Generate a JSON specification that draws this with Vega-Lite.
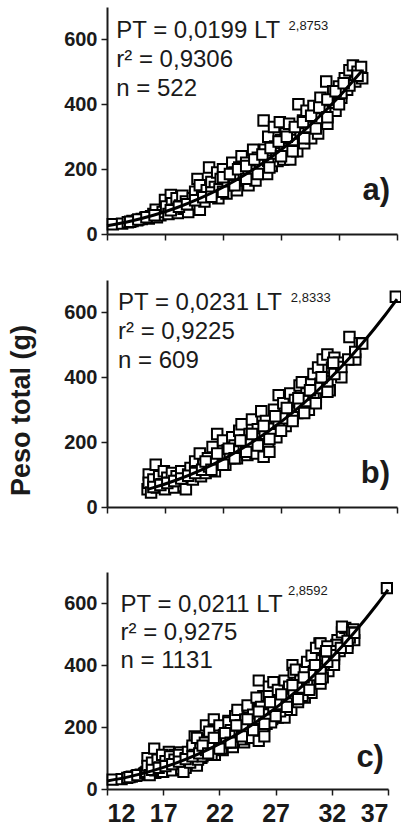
{
  "$schema": "https://vega.github.io/schema/vega-lite/v6.json",
  "background": "white",
  "padding": {"left": 7, "top": 7, "right": 0, "bottom": 0},
  "datasets": {
    "pts": [
      {"g":"a","lt":12.5,"pt":30},{"g":"a","lt":13.3,"pt":32},{"g":"a","lt":13.8,"pt":36},{"g":"a","lt":14.2,"pt":40},{"g":"a","lt":14.6,"pt":42},
      {"g":"a","lt":15.0,"pt":46},{"g":"a","lt":15.3,"pt":50},{"g":"a","lt":15.6,"pt":48},{"g":"a","lt":15.8,"pt":55},{"g":"a","lt":16.0,"pt":62},
      {"g":"a","lt":16.2,"pt":75},{"g":"a","lt":16.3,"pt":52},{"g":"a","lt":16.6,"pt":58},{"g":"a","lt":16.8,"pt":68},{"g":"a","lt":17.0,"pt":105},
      {"g":"a","lt":17.1,"pt":85},{"g":"a","lt":17.3,"pt":62},{"g":"a","lt":17.5,"pt":120},{"g":"a","lt":17.6,"pt":95},{"g":"a","lt":17.8,"pt":75},
      {"g":"a","lt":18.0,"pt":110},{"g":"a","lt":18.1,"pt":65},{"g":"a","lt":18.3,"pt":88},{"g":"a","lt":18.5,"pt":118},{"g":"a","lt":18.6,"pt":78},
      {"g":"a","lt":18.8,"pt":100},{"g":"a","lt":19.0,"pt":68},{"g":"a","lt":19.2,"pt":92},{"g":"a","lt":19.4,"pt":110},{"g":"a","lt":19.6,"pt":130},
      {"g":"a","lt":19.8,"pt":170},{"g":"a","lt":20.0,"pt":150},{"g":"a","lt":20.0,"pt":75},{"g":"a","lt":20.2,"pt":118},{"g":"a","lt":20.4,"pt":100},
      {"g":"a","lt":20.6,"pt":135},{"g":"a","lt":20.8,"pt":205},{"g":"a","lt":21.0,"pt":160},{"g":"a","lt":21.1,"pt":120},{"g":"a","lt":21.3,"pt":145},
      {"g":"a","lt":21.5,"pt":190},{"g":"a","lt":21.6,"pt":110},{"g":"a","lt":21.8,"pt":170},{"g":"a","lt":22.0,"pt":200},{"g":"a","lt":22.1,"pt":140},
      {"g":"a","lt":22.3,"pt":125},{"g":"a","lt":22.5,"pt":175},{"g":"a","lt":22.7,"pt":155},{"g":"a","lt":22.8,"pt":220},{"g":"a","lt":23.0,"pt":190},
      {"g":"a","lt":23.2,"pt":135},{"g":"a","lt":23.4,"pt":205},{"g":"a","lt":23.6,"pt":240},{"g":"a","lt":23.7,"pt":165},{"g":"a","lt":23.9,"pt":185},
      {"g":"a","lt":24.0,"pt":220},{"g":"a","lt":24.2,"pt":150},{"g":"a","lt":24.4,"pt":200},{"g":"a","lt":24.6,"pt":260},{"g":"a","lt":24.8,"pt":165},
      {"g":"a","lt":25.0,"pt":235},{"g":"a","lt":25.1,"pt":190},{"g":"a","lt":25.3,"pt":215},{"g":"a","lt":25.5,"pt":350},{"g":"a","lt":25.6,"pt":260},
      {"g":"a","lt":25.8,"pt":185},{"g":"a","lt":25.9,"pt":300},{"g":"a","lt":26.0,"pt":240},{"g":"a","lt":26.2,"pt":210},{"g":"a","lt":26.4,"pt":330},
      {"g":"a","lt":26.5,"pt":270},{"g":"a","lt":26.7,"pt":225},{"g":"a","lt":26.9,"pt":345},{"g":"a","lt":27.0,"pt":290},{"g":"a","lt":27.2,"pt":230},
      {"g":"a","lt":27.4,"pt":310},{"g":"a","lt":27.5,"pt":260},{"g":"a","lt":27.7,"pt":340},{"g":"a","lt":27.8,"pt":230},{"g":"a","lt":28.0,"pt":280},
      {"g":"a","lt":28.2,"pt":320},{"g":"a","lt":28.4,"pt":255},{"g":"a","lt":28.5,"pt":400},{"g":"a","lt":28.7,"pt":300},{"g":"a","lt":28.9,"pt":350},
      {"g":"a","lt":29.0,"pt":280},{"g":"a","lt":29.2,"pt":380},{"g":"a","lt":29.4,"pt":330},{"g":"a","lt":29.6,"pt":295},{"g":"a","lt":29.8,"pt":395},
      {"g":"a","lt":30.0,"pt":360},{"g":"a","lt":30.2,"pt":310},{"g":"a","lt":30.4,"pt":420},{"g":"a","lt":30.6,"pt":380},{"g":"a","lt":30.9,"pt":470},
      {"g":"a","lt":31.0,"pt":340},{"g":"a","lt":31.2,"pt":410},{"g":"a","lt":31.5,"pt":440},{"g":"a","lt":31.7,"pt":380},{"g":"a","lt":32.0,"pt":455},
      {"g":"a","lt":32.2,"pt":420},{"g":"a","lt":32.5,"pt":480},{"g":"a","lt":32.7,"pt":445},{"g":"a","lt":32.9,"pt":505},{"g":"a","lt":33.2,"pt":520},
      {"g":"a","lt":33.4,"pt":470},{"g":"a","lt":33.6,"pt":500},{"g":"a","lt":33.9,"pt":515},{"g":"a","lt":34.0,"pt":480},
      {"g":"a","lt":14.0,"pt":38},{"g":"a","lt":14.7,"pt":45},{"g":"a","lt":15.4,"pt":52},{"g":"a","lt":16.1,"pt":58},{"g":"a","lt":17.5,"pt":73},
      {"g":"a","lt":18.2,"pt":84},{"g":"a","lt":18.9,"pt":92},{"g":"a","lt":19.6,"pt":104},{"g":"a","lt":20.3,"pt":113},{"g":"a","lt":21.0,"pt":128},
      {"g":"a","lt":21.7,"pt":138},{"g":"a","lt":22.4,"pt":150},{"g":"a","lt":23.1,"pt":168},{"g":"a","lt":23.8,"pt":178},{"g":"a","lt":24.5,"pt":195},
      {"g":"a","lt":25.2,"pt":214},{"g":"a","lt":25.9,"pt":226},{"g":"a","lt":26.6,"pt":248},{"g":"a","lt":27.3,"pt":264},{"g":"a","lt":28.0,"pt":290},
      {"g":"a","lt":28.7,"pt":310},{"g":"a","lt":29.4,"pt":330},{"g":"a","lt":30.1,"pt":356},{"g":"a","lt":30.8,"pt":380},{"g":"a","lt":31.5,"pt":405},
      {"g":"a","lt":32.2,"pt":435},{"g":"a","lt":32.9,"pt":458},{"g":"a","lt":33.6,"pt":488},
      {"g":"a","lt":22.0,"pt":175},{"g":"a","lt":22.6,"pt":185},{"g":"a","lt":23.3,"pt":200},{"g":"a","lt":24.0,"pt":210},{"g":"a","lt":24.7,"pt":230},
      {"g":"a","lt":25.4,"pt":245},{"g":"a","lt":26.1,"pt":265},{"g":"a","lt":26.8,"pt":285},{"g":"a","lt":27.5,"pt":300},{"g":"a","lt":28.2,"pt":330},
      {"g":"a","lt":28.9,"pt":345},{"g":"a","lt":29.6,"pt":365},{"g":"a","lt":30.3,"pt":390},{"g":"a","lt":31.0,"pt":415},{"g":"a","lt":31.7,"pt":440},
      {"g":"a","lt":32.4,"pt":465},{"g":"a","lt":21.0,"pt":115},{"g":"a","lt":22.0,"pt":130},{"g":"a","lt":23.0,"pt":150},{"g":"a","lt":24.0,"pt":170},
      {"g":"a","lt":25.0,"pt":185},{"g":"a","lt":26.0,"pt":205},{"g":"a","lt":27.0,"pt":240},{"g":"a","lt":28.0,"pt":255},{"g":"a","lt":29.0,"pt":295},
      {"g":"a","lt":30.0,"pt":325},{"g":"a","lt":31.0,"pt":360},{"g":"a","lt":32.0,"pt":400},
      {"g":"b","lt":15.5,"pt":55},{"g":"b","lt":15.6,"pt":100},{"g":"b","lt":15.6,"pt":75},{"g":"b","lt":15.8,"pt":45},{"g":"b","lt":16.0,"pt":85},
      {"g":"b","lt":16.2,"pt":130},{"g":"b","lt":16.3,"pt":60},{"g":"b","lt":16.5,"pt":95},{"g":"b","lt":16.7,"pt":70},{"g":"b","lt":16.9,"pt":110},
      {"g":"b","lt":17.0,"pt":55},{"g":"b","lt":17.2,"pt":90},{"g":"b","lt":17.4,"pt":75},{"g":"b","lt":17.6,"pt":105},{"g":"b","lt":17.8,"pt":60},
      {"g":"b","lt":18.0,"pt":95},{"g":"b","lt":18.2,"pt":80},{"g":"b","lt":18.4,"pt":110},{"g":"b","lt":18.6,"pt":65},{"g":"b","lt":18.8,"pt":55},
      {"g":"b","lt":19.0,"pt":100},{"g":"b","lt":19.2,"pt":120},{"g":"b","lt":19.4,"pt":85},{"g":"b","lt":19.6,"pt":140},{"g":"b","lt":19.8,"pt":110},
      {"g":"b","lt":20.0,"pt":165},{"g":"b","lt":20.1,"pt":95},{"g":"b","lt":20.3,"pt":130},{"g":"b","lt":20.5,"pt":105},{"g":"b","lt":20.7,"pt":150},
      {"g":"b","lt":20.9,"pt":125},{"g":"b","lt":21.1,"pt":185},{"g":"b","lt":21.3,"pt":110},{"g":"b","lt":21.5,"pt":225},{"g":"b","lt":21.6,"pt":160},
      {"g":"b","lt":21.8,"pt":140},{"g":"b","lt":22.0,"pt":205},{"g":"b","lt":22.2,"pt":130},{"g":"b","lt":22.4,"pt":175},{"g":"b","lt":22.6,"pt":150},
      {"g":"b","lt":22.8,"pt":215},{"g":"b","lt":23.0,"pt":190},{"g":"b","lt":23.2,"pt":150},{"g":"b","lt":23.4,"pt":235},{"g":"b","lt":23.6,"pt":255},
      {"g":"b","lt":23.7,"pt":170},{"g":"b","lt":23.9,"pt":205},{"g":"b","lt":24.1,"pt":160},{"g":"b","lt":24.3,"pt":225},{"g":"b","lt":24.5,"pt":270},
      {"g":"b","lt":24.7,"pt":190},{"g":"b","lt":24.8,"pt":165},{"g":"b","lt":25.0,"pt":240},{"g":"b","lt":25.2,"pt":210},{"g":"b","lt":25.3,"pt":295},
      {"g":"b","lt":25.5,"pt":155},{"g":"b","lt":25.7,"pt":265},{"g":"b","lt":25.9,"pt":190},{"g":"b","lt":26.0,"pt":170},{"g":"b","lt":26.2,"pt":240},
      {"g":"b","lt":26.4,"pt":300},{"g":"b","lt":26.6,"pt":215},{"g":"b","lt":26.8,"pt":345},{"g":"b","lt":27.0,"pt":270},{"g":"b","lt":27.2,"pt":320},
      {"g":"b","lt":27.4,"pt":250},{"g":"b","lt":27.6,"pt":300},{"g":"b","lt":27.8,"pt":350},{"g":"b","lt":28.0,"pt":275},{"g":"b","lt":28.2,"pt":330},
      {"g":"b","lt":28.4,"pt":290},{"g":"b","lt":28.6,"pt":375},{"g":"b","lt":28.8,"pt":385},{"g":"b","lt":29.0,"pt":310},{"g":"b","lt":29.2,"pt":350},
      {"g":"b","lt":29.4,"pt":300},{"g":"b","lt":29.6,"pt":380},{"g":"b","lt":29.8,"pt":410},{"g":"b","lt":30.0,"pt":340},{"g":"b","lt":30.2,"pt":430},
      {"g":"b","lt":30.4,"pt":380},{"g":"b","lt":30.6,"pt":455},{"g":"b","lt":30.8,"pt":400},{"g":"b","lt":31.0,"pt":470},{"g":"b","lt":31.2,"pt":360},
      {"g":"b","lt":31.4,"pt":430},{"g":"b","lt":31.6,"pt":460},{"g":"b","lt":31.8,"pt":420},{"g":"b","lt":32.0,"pt":445},{"g":"b","lt":32.2,"pt":400},
      {"g":"b","lt":32.9,"pt":524},{"g":"b","lt":33.4,"pt":455},{"g":"b","lt":33.8,"pt":505},{"g":"b","lt":36.9,"pt":648},
      {"g":"b","lt":16.0,"pt":62},{"g":"b","lt":16.6,"pt":68},{"g":"b","lt":17.2,"pt":74},{"g":"b","lt":17.8,"pt":80},{"g":"b","lt":18.4,"pt":88},
      {"g":"b","lt":19.0,"pt":96},{"g":"b","lt":19.6,"pt":105},{"g":"b","lt":20.2,"pt":115},{"g":"b","lt":20.8,"pt":125},{"g":"b","lt":21.4,"pt":136},
      {"g":"b","lt":22.0,"pt":147},{"g":"b","lt":22.6,"pt":158},{"g":"b","lt":23.2,"pt":171},{"g":"b","lt":23.8,"pt":184},{"g":"b","lt":24.4,"pt":197},
      {"g":"b","lt":25.0,"pt":211},{"g":"b","lt":25.6,"pt":226},{"g":"b","lt":26.2,"pt":241},{"g":"b","lt":26.8,"pt":257},{"g":"b","lt":27.4,"pt":274},
      {"g":"b","lt":28.0,"pt":291},{"g":"b","lt":28.6,"pt":309},{"g":"b","lt":29.2,"pt":327},{"g":"b","lt":29.8,"pt":347},{"g":"b","lt":30.4,"pt":367},
      {"g":"b","lt":31.0,"pt":388},{"g":"b","lt":31.6,"pt":410},{"g":"b","lt":32.2,"pt":432},{"g":"b","lt":32.8,"pt":455},{"g":"b","lt":33.4,"pt":478},
      {"g":"b","lt":34.0,"pt":504},
      {"g":"b","lt":20.5,"pt":140},{"g":"b","lt":21.5,"pt":165},{"g":"b","lt":22.5,"pt":180},{"g":"b","lt":23.5,"pt":205},{"g":"b","lt":24.5,"pt":225},
      {"g":"b","lt":25.5,"pt":250},{"g":"b","lt":26.5,"pt":280},{"g":"b","lt":27.5,"pt":305},{"g":"b","lt":28.5,"pt":335},{"g":"b","lt":29.5,"pt":360},
      {"g":"b","lt":30.5,"pt":400},{"g":"b","lt":31.5,"pt":445},{"g":"b","lt":21.0,"pt":115},{"g":"b","lt":22.0,"pt":130},{"g":"b","lt":23.0,"pt":150},
      {"g":"b","lt":24.0,"pt":170},{"g":"b","lt":25.0,"pt":190},{"g":"b","lt":26.0,"pt":210},{"g":"b","lt":27.0,"pt":235},{"g":"b","lt":28.0,"pt":265},
      {"g":"b","lt":29.0,"pt":290},{"g":"b","lt":30.0,"pt":320},{"g":"b","lt":31.0,"pt":355}
    ],
    "fit": [
      {"g":"a","lt":12,"pt":25.2},{"g":"a","lt":14,"pt":39.3},{"g":"a","lt":16,"pt":57.7},{"g":"a","lt":18,"pt":80.9},{"g":"a","lt":20,"pt":109.6},
      {"g":"a","lt":22,"pt":144.1},{"g":"a","lt":24,"pt":185.1},{"g":"a","lt":26,"pt":233.0},{"g":"a","lt":28,"pt":288.3},{"g":"a","lt":30,"pt":351.6},
      {"g":"a","lt":32,"pt":423.3},{"g":"a","lt":34,"pt":503.9},
      {"g":"b","lt":15.5,"pt":54.5},{"g":"b","lt":16,"pt":59.6},{"g":"b","lt":18,"pt":83.2},{"g":"b","lt":20,"pt":112.2},{"g":"b","lt":22,"pt":146.9},
      {"g":"b","lt":24,"pt":188.0},{"g":"b","lt":26,"pt":235.9},{"g":"b","lt":28,"pt":290.9},{"g":"b","lt":30,"pt":353.8},{"g":"b","lt":32,"pt":424.8},
      {"g":"b","lt":34,"pt":504.4},{"g":"b","lt":36,"pt":592.9},{"g":"b","lt":37,"pt":640.8},
      {"g":"c","lt":12,"pt":25.7},{"g":"c","lt":14,"pt":39.9},{"g":"c","lt":16,"pt":58.5},{"g":"c","lt":18,"pt":81.9},{"g":"c","lt":20,"pt":110.7},
      {"g":"c","lt":22,"pt":145.4},{"g":"c","lt":24,"pt":186.5},{"g":"c","lt":26,"pt":234.5},{"g":"c","lt":28,"pt":289.8},{"g":"c","lt":30,"pt":353.0},
      {"g":"c","lt":32,"pt":424.5},{"g":"c","lt":34,"pt":504.9},{"g":"c","lt":36,"pt":594.3},{"g":"c","lt":37,"pt":642.8}
    ],
    "txt": [
      {"g":"a","body":"PT = 0,0199 LT\nr² = 0,9306\nn = 522","sup":"2,8753","tag":"a)"},
      {"g":"b","body":"PT = 0,0231 LT\nr² = 0,9225\nn = 609","sup":"2,8333","tag":"b)"},
      {"g":"c","body":"PT = 0,0211 LT\nr² = 0,9275\nn = 1131","sup":"2,8592","tag":"c)"}
    ]
  },
  "spacing": 55,
  "vconcat": [
    {
      "spacing": 36,
      "vconcat": [
        {
          "width": 290, "height": 227,
          "layer": [
            {"data": {"name": "pts"}, "transform": [{"filter": "datum.g == 'a'"}],
             "mark": {"type": "point", "shape": "square", "filled": true, "fill": "white", "stroke": "black", "strokeWidth": 2, "size": 110, "opacity": 1},
             "encoding": {
               "x": {"field": "lt", "type": "quantitative", "scale": {"domain": [12, 37], "nice": false, "zero": false},
                     "axis": {"values": [12, 17, 22, 27, 32, 37], "labels": false, "title": null, "tickSize": 6}},
               "y": {"field": "pt", "type": "quantitative", "scale": {"domain": [0, 700], "nice": false},
                     "axis": {"values": [0, 100, 200, 300, 400, 500, 600, 700], "labelExpr": "datum.value % 200 == 0 && datum.value < 700 ? datum.label : ''", "title": "Peso total (g)", "titleOpacity": 0, "tickSize": 6}}
             }},
            {"data": {"name": "fit"}, "transform": [{"filter": "datum.g == 'a'"}],
             "mark": {"type": "line", "color": "black", "strokeWidth": 3, "interpolate": "monotone"},
             "encoding": {"x": {"field": "lt", "type": "quantitative", "title": null}, "y": {"field": "pt", "type": "quantitative", "title": "Peso total (g)"}}},
            {"data": {"name": "txt"}, "transform": [{"filter": "datum.g == 'a'"}],
             "mark": {"type": "text", "align": "left", "baseline": "alphabetic", "font": "Liberation Sans", "fontSize": 24, "lineBreak": "\n", "lineHeight": 29, "color": "#1a1a1a"},
             "encoding": {"x": {"datum": 12.8}, "y": {"datum": 604}, "text": {"field": "body"}}},
            {"data": {"name": "txt"}, "transform": [{"filter": "datum.g == 'a'"}],
             "mark": {"type": "text", "align": "left", "baseline": "alphabetic", "font": "Liberation Sans", "fontSize": 13, "color": "#1a1a1a"},
             "encoding": {"x": {"datum": 27.65}, "y": {"datum": 629}, "text": {"field": "sup"}}},
            {"data": {"name": "txt"}, "transform": [{"filter": "datum.g == 'a'"}],
             "mark": {"type": "text", "align": "right", "baseline": "alphabetic", "font": "Liberation Sans", "fontSize": 31, "fontWeight": "bold", "color": "#1a1a1a"},
             "encoding": {"x": {"datum": 36.4}, "y": {"datum": 105}, "text": {"field": "tag"}}}
          ]
        },
        {
          "width": 290, "height": 227,
          "layer": [
            {"data": {"name": "pts"}, "transform": [{"filter": "datum.g == 'b'"}],
             "mark": {"type": "point", "shape": "square", "filled": true, "fill": "white", "stroke": "black", "strokeWidth": 2, "size": 110, "opacity": 1},
             "encoding": {
               "x": {"field": "lt", "type": "quantitative", "scale": {"domain": [12, 37], "nice": false, "zero": false},
                     "axis": {"values": [12, 17, 22, 27, 32, 37], "labels": false, "title": null, "tickSize": 6}},
               "y": {"field": "pt", "type": "quantitative", "scale": {"domain": [0, 700], "nice": false},
                     "axis": {"values": [0, 100, 200, 300, 400, 500, 600, 700], "labelExpr": "datum.value % 200 == 0 && datum.value < 700 ? datum.label : ''", "title": "Peso total (g)", "titleY": 130, "tickSize": 6}}
             }},
            {"data": {"name": "fit"}, "transform": [{"filter": "datum.g == 'b'"}],
             "mark": {"type": "line", "color": "black", "strokeWidth": 3, "interpolate": "monotone"},
             "encoding": {"x": {"field": "lt", "type": "quantitative", "title": null}, "y": {"field": "pt", "type": "quantitative", "title": "Peso total (g)"}}},
            {"data": {"name": "txt"}, "transform": [{"filter": "datum.g == 'b'"}],
             "mark": {"type": "text", "align": "left", "baseline": "alphabetic", "font": "Liberation Sans", "fontSize": 24, "lineBreak": "\n", "lineHeight": 29, "color": "#1a1a1a"},
             "encoding": {"x": {"datum": 12.95}, "y": {"datum": 607}, "text": {"field": "body"}}},
            {"data": {"name": "txt"}, "transform": [{"filter": "datum.g == 'b'"}],
             "mark": {"type": "text", "align": "left", "baseline": "alphabetic", "font": "Liberation Sans", "fontSize": 13, "color": "#1a1a1a"},
             "encoding": {"x": {"datum": 27.85}, "y": {"datum": 632}, "text": {"field": "sup"}}},
            {"data": {"name": "txt"}, "transform": [{"filter": "datum.g == 'b'"}],
             "mark": {"type": "text", "align": "right", "baseline": "alphabetic", "font": "Liberation Sans", "fontSize": 31, "fontWeight": "bold", "color": "#1a1a1a"},
             "encoding": {"x": {"datum": 36.4}, "y": {"datum": 74}, "text": {"field": "tag"}}}
          ]
        }
      ]
    },
    {
      "width": 281, "height": 217,
      "layer": [
        {"data": {"name": "pts"},
         "mark": {"type": "point", "shape": "square", "filled": true, "fill": "white", "stroke": "black", "strokeWidth": 2, "size": 105, "opacity": 1},
         "encoding": {
           "x": {"field": "lt", "type": "quantitative", "scale": {"domain": [12, 37], "nice": false, "zero": false},
                 "axis": {"values": [12, 17, 22, 27, 32, 37], "title": null, "tickSize": 6, "labelFontSize": 25, "labelPadding": 6, "labelOverlap": false}},
           "y": {"field": "pt", "type": "quantitative", "scale": {"domain": [0, 700], "nice": false},
                 "axis": {"values": [0, 100, 200, 300, 400, 500, 600, 700], "labelExpr": "datum.value % 200 == 0 && datum.value < 700 ? datum.label : ''", "title": "Peso total (g)", "titleOpacity": 0, "tickSize": 6}}
         }},
        {"data": {"name": "fit"}, "transform": [{"filter": "datum.g == 'c'"}],
         "mark": {"type": "line", "color": "black", "strokeWidth": 3, "interpolate": "monotone"},
         "encoding": {"x": {"field": "lt", "type": "quantitative", "title": null}, "y": {"field": "pt", "type": "quantitative", "title": "Peso total (g)"}}},
        {"data": {"name": "txt"}, "transform": [{"filter": "datum.g == 'c'"}],
         "mark": {"type": "text", "align": "left", "baseline": "alphabetic", "font": "Liberation Sans", "fontSize": 24, "lineBreak": "\n", "lineHeight": 28, "color": "#1a1a1a"},
         "encoding": {"x": {"datum": 13.2}, "y": {"datum": 571}, "text": {"field": "body"}}},
        {"data": {"name": "txt"}, "transform": [{"filter": "datum.g == 'c'"}],
         "mark": {"type": "text", "align": "left", "baseline": "alphabetic", "font": "Liberation Sans", "fontSize": 13, "color": "#1a1a1a"},
         "encoding": {"x": {"datum": 28.1}, "y": {"datum": 626}, "text": {"field": "sup"}}},
        {"data": {"name": "txt"}, "transform": [{"filter": "datum.g == 'c'"}],
         "mark": {"type": "text", "align": "right", "baseline": "alphabetic", "font": "Liberation Sans", "fontSize": 31, "fontWeight": "bold", "color": "#1a1a1a"},
         "encoding": {"x": {"datum": 36.64}, "y": {"datum": 71}, "text": {"field": "tag"}}}
      ]
    }
  ],
  "config": {
    "view": {"stroke": null},
    "font": "Liberation Sans",
    "axis": {
      "grid": false,
      "domainColor": "#1a1a1a", "domainWidth": 2,
      "tickColor": "#1a1a1a", "tickWidth": 1.5,
      "labelColor": "#1a1a1a", "labelFont": "Liberation Sans", "labelFontWeight": "bold", "labelFontSize": 20, "labelPadding": 4,
      "titleColor": "#1a1a1a", "titleFont": "Liberation Sans", "titleFontWeight": "bold", "titleFontSize": 27, "titlePadding": 28
    }
  }
}
